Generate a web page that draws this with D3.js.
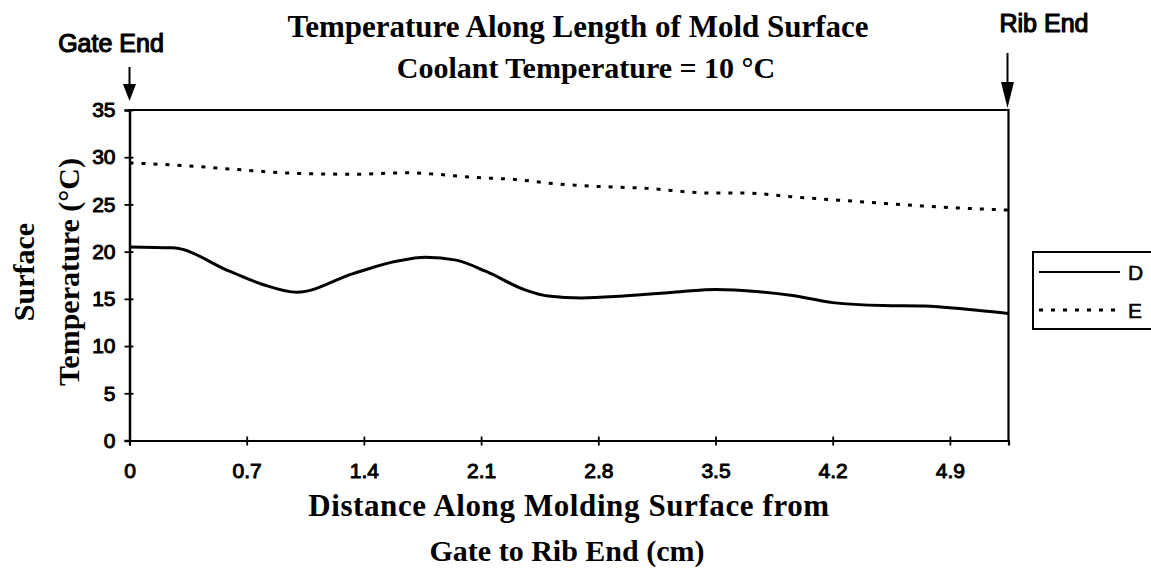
<!DOCTYPE html>
<html>
<head>
<meta charset="utf-8">
<script src="https://cdn.jsdelivr.net/npm/d3@7"></script>
<style>
  html, body { margin: 0; padding: 0; background: #fff; overflow: hidden; }
  svg { display: block; }
  .serif { font-family: "Liberation Serif", "Times New Roman", serif; font-weight: bold; }
  .sans { font-family: "Liberation Sans", Arial, sans-serif; font-weight: normal; stroke: #000; stroke-width: 1px; stroke-linejoin: round; }
</style>
</head>
<body>
<svg id="chart" width="1151" height="576"></svg>
<script>
// Surface temperature along the mold, coolant at 10 °C
const distD = [0, 0.26, 0.6, 0.8, 1.0, 1.34, 1.6, 1.77, 1.95, 2.13, 2.37, 2.5, 2.7, 2.95, 3.29, 3.5, 3.76, 3.96, 4.2, 4.5, 4.75, 5.0, 5.25];
const tempD = [20.5, 20.4, 17.9, 16.5, 15.7, 17.7, 19.0, 19.4, 19.1, 17.9, 15.9, 15.3, 15.1, 15.3, 15.75, 16.0, 15.75, 15.35, 14.6, 14.3, 14.25, 13.9, 13.45];

const distE = [0, 0.34, 0.64, 0.98, 1.34, 1.66, 1.83, 2.03, 2.33, 2.53, 2.69, 3.09, 3.48, 3.68, 3.96, 4.28, 4.68, 4.98, 5.25];
const tempE = [29.4, 29.1, 28.7, 28.3, 28.2, 28.35, 28.2, 27.9, 27.6, 27.2, 27.0, 26.7, 26.2, 26.2, 25.8, 25.4, 24.9, 24.6, 24.4];

const xTicks = [0, 0.7, 1.4, 2.1, 2.8, 3.5, 4.2, 4.9];
const xTickLabels = ["0", "0.7", "1.4", "2.1", "2.8", "3.5", "4.2", "4.9"];
const yTicks = [0, 5, 10, 15, 20, 25, 30, 35];
const seriesNames = ["D", "E"];

const svg = d3.select("#chart");
const L = 129.5, R = 1008.5, T = 110, B = 440.5;

const x = d3.scaleLinear().domain([0, 5.25]).range([L, R]);
const y = d3.scaleLinear().domain([0, 35]).range([B, T]);

// frame: top and right edges
svg.append("path")
  .attr("d", `M${L},${T}H${R}V${B}`)
  .attr("fill", "none").attr("stroke", "#000").attr("stroke-width", 2.2);

// y axis with cross ticks
const yAxis = svg.append("g")
  .attr("transform", `translate(${L},0)`)
  .call(d3.axisLeft(y).tickValues(yTicks).tickFormat(d3.format("d")).tickSize(5).tickPadding(9));
yAxis.select(".domain").attr("stroke-width", 2.5);
yAxis.selectAll(".tick line").attr("x1", 4).attr("x2", -5).attr("stroke-width", 1.8);
yAxis.selectAll(".tick text").attr("class", "sans").style("font-size", "21px").attr("fill", "#000");

// x axis with cross ticks
const xAxis = svg.append("g")
  .attr("transform", `translate(0,${B})`)
  .call(d3.axisBottom(x).tickValues(xTicks).tickFormat((d, i) => xTickLabels[i]).tickSize(5).tickPadding(18));
xAxis.select(".domain").attr("stroke-width", 2.2);
xAxis.selectAll(".tick line").attr("y1", -4).attr("y2", 5).attr("stroke-width", 1.8);
xAxis.selectAll(".tick text").attr("class", "sans").style("font-size", "21px").attr("fill", "#000");

// series
const line = d3.line().x(d => x(d[0])).y(d => y(d[1])).curve(d3.curveMonotoneX);
svg.append("path")
  .datum(distD.map((d, i) => [d, tempD[i]]))
  .attr("d", line).attr("fill", "none").attr("stroke", "#000").attr("stroke-width", 3);
svg.append("path")
  .datum(distE.map((d, i) => [d, tempE[i]]))
  .attr("d", line).attr("fill", "none").attr("stroke", "#000").attr("stroke-width", 3)
  .attr("stroke-dasharray", "4,8");

// titles
svg.append("text").attr("class", "serif").attr("x", 578).attr("y", 37)
  .attr("text-anchor", "middle").style("font-size", "31px").text("Temperature Along Length of Mold Surface");
svg.append("text").attr("class", "serif").attr("x", 586).attr("y", 78)
  .attr("text-anchor", "middle").style("font-size", "30px").text("Coolant Temperature = 10 °C");

svg.append("text").attr("class", "serif").attr("x", 569).attr("y", 516)
  .attr("text-anchor", "middle").style("font-size", "31px").style("letter-spacing", "0.6px")
  .text("Distance Along Molding Surface from");
svg.append("text").attr("class", "serif").attr("x", 567).attr("y", 561)
  .attr("text-anchor", "middle").style("font-size", "30px").text("Gate to Rib End (cm)");

svg.append("text").attr("class", "serif")
  .attr("transform", "translate(34,272) rotate(-90)")
  .attr("text-anchor", "middle").style("font-size", "30px").text("Surface");
svg.append("text").attr("class", "serif")
  .attr("transform", "translate(79,272) rotate(-90)")
  .attr("text-anchor", "middle").style("font-size", "30px").text("Temperature (°C)");

// end markers
function arrow(cx, top, headTop, tip, hw) {
  svg.append("line").attr("x1", cx).attr("x2", cx).attr("y1", top).attr("y2", headTop + 2)
    .attr("stroke", "#000").attr("stroke-width", 2);
  svg.append("path").attr("d", `M${cx - hw},${headTop}L${cx + hw},${headTop}L${cx},${tip}Z`).attr("fill", "#000");
}
arrow(x(0), 67, 84, 101, 6.5);
arrow(x(5.25) - 1, 53, 82, 108, 6.5);

svg.append("text").attr("class", "sans").attr("x", 111).attr("y", 52)
  .attr("text-anchor", "middle").style("font-size", "25px").style("stroke-width", "1.2px").text("Gate End");
svg.append("text").attr("class", "sans").attr("x", 1044).attr("y", 32)
  .attr("text-anchor", "middle").style("font-size", "25px").style("stroke-width", "1.2px").text("Rib End");

// legend
const lg = svg.append("g").attr("transform", "translate(1033,252)");
lg.append("rect").attr("x", 0).attr("y", 0).attr("width", 140).attr("height", 77)
  .attr("fill", "#fff").attr("stroke", "#000").attr("stroke-width", 2);
seriesNames.forEach((name, i) => {
  const ly = 20 + i * 38;
  lg.append("line").attr("x1", 6).attr("x2", 87).attr("y1", ly).attr("y2", ly)
    .attr("stroke", "#000").attr("stroke-width", i ? 3 : 2)
    .attr("stroke-dasharray", i ? "4,8" : null);
  lg.append("text").attr("class", "sans").attr("x", 95).attr("y", ly).attr("dy", "0.36em")
    .style("font-size", "21px").style("stroke-width", "0.6px").text(name);
});
</script>
</body>
</html>
